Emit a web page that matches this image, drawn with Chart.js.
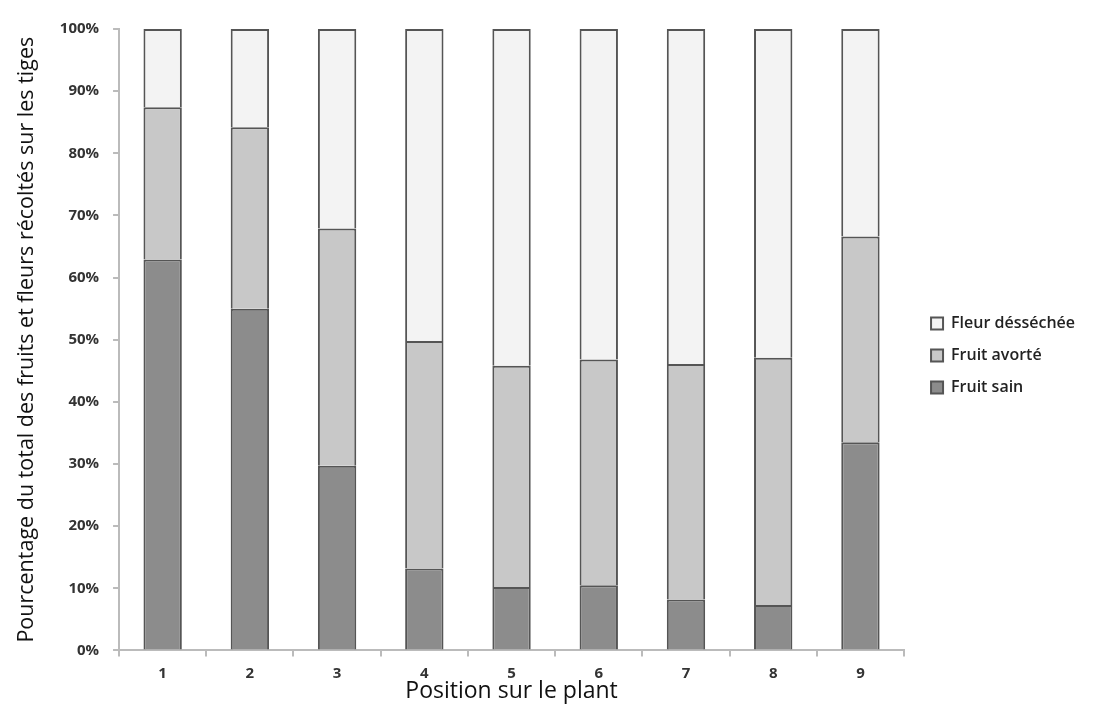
<!DOCTYPE html>
<html>
<head>
<meta charset="utf-8">
<script src="https://cdn.jsdelivr.net/npm/chart.js@4/dist/chart.umd.min.js"></script>
<style>
  html, body { margin: 0; padding: 0; background: #fff; }
  #wrap { width: 1094px; height: 728px; position: relative; }
</style>
</head>
<body>
<div id="wrap"><canvas id="barChart" width="1094" height="728"></canvas></div>
<script>
// positions on the plant
const positions = ["1", "2", "3", "4", "5", "6", "7", "8", "9"];
// percentages
const fruitSain = [62.9, 55.0, 29.7, 13.2, 10.2, 10.5, 8.2, 7.3, 33.5];
const fruitAvorte = [24.5, 29.2, 38.2, 36.6, 35.6, 36.3, 37.9, 39.8, 33.1];
const fleurDessechee = [12.6, 15.8, 32.1, 50.2, 54.2, 53.2, 53.9, 52.9, 33.4];

const tickFont = { family: "Open Sans", size: 15, weight: "bold" };

let data = {
  labels: positions,
  datasets: [
    {
      label: "Fruit sain",
      data: fruitSain,
      backgroundColor: "#8c8c8c",
      borderColor: "#555555",
      borderWidth: 2
    },
    {
      label: "Fruit avorté",
      data: fruitAvorte,
      backgroundColor: "#c8c8c8",
      borderColor: "#555555",
      borderWidth: 2
    },
    {
      label: "Fleur désséchée",
      data: fleurDessechee,
      backgroundColor: "#f3f3f3",
      borderColor: "#555555",
      borderWidth: 2
    }
  ]
};

let config = {
  type: "bar",
  data: data,
  options: {
    responsive: false,
    animation: false,
    layout: { padding: { left: 14, right: 9, top: 29, bottom: 23 } },
    datasets: {
      bar: { categoryPercentage: 1, barPercentage: 0.44 }
    },
    plugins: {
      legend: {
        position: "right",
        reverse: true,
        align: "start",
        title: { display: true, text: " ", padding: { top: 256, bottom: 0 } },
        labels: {
          font: { family: "Open Sans", size: 16, weight: "600" },
          color: "#222",
          boxWidth: 12,
          boxHeight: 12,
          padding: 16
        }
      },
      tooltip: { enabled: false }
    },
    scales: {
      x: {
        stacked: true,
        offset: true,
        border: { color: "#bbbbbb", width: 2 },
        grid: { offset: true, drawOnChartArea: false, drawTicks: true, tickLength: 6, color: "#bbbbbb", lineWidth: 2 },
        ticks: { font: tickFont, color: "#333", padding: 8 },
        title: {
          display: true,
          text: "Position sur le plant",
          font: { family: "Open Sans", size: 23 },
          color: "#111",
          padding: { top: -13, bottom: 0 }
        }
      },
      y: {
        stacked: true,
        min: 0,
        max: 100,
        border: { color: "#bbbbbb", width: 2 },
        grid: { drawOnChartArea: false, drawTicks: true, tickLength: 6, color: "#bbbbbb", lineWidth: 2 },
        ticks: {
          stepSize: 10,
          font: tickFont,
          color: "#333",
          padding: 14,
          callback: (v) => v + "%"
        },
        title: {
          display: true,
          text: "Pourcentage du total des fruits et fleurs récoltés sur les tiges",
          font: { family: "Open Sans", size: 21.5 },
          color: "#111",
          padding: { top: 0, bottom: 6 }
        }
      },
      // empty spacer between the plot and the legend
      gap: {
        axis: "y",
        position: "right",
        grid: { display: false },
        border: { display: false },
        ticks: { display: false },
        afterFit: (s) => {
          s.width = 11;
        }
      }
    }
  }
};

const chart = new Chart(document.getElementById("barChart"), config);
</script>
</body>
</html>
